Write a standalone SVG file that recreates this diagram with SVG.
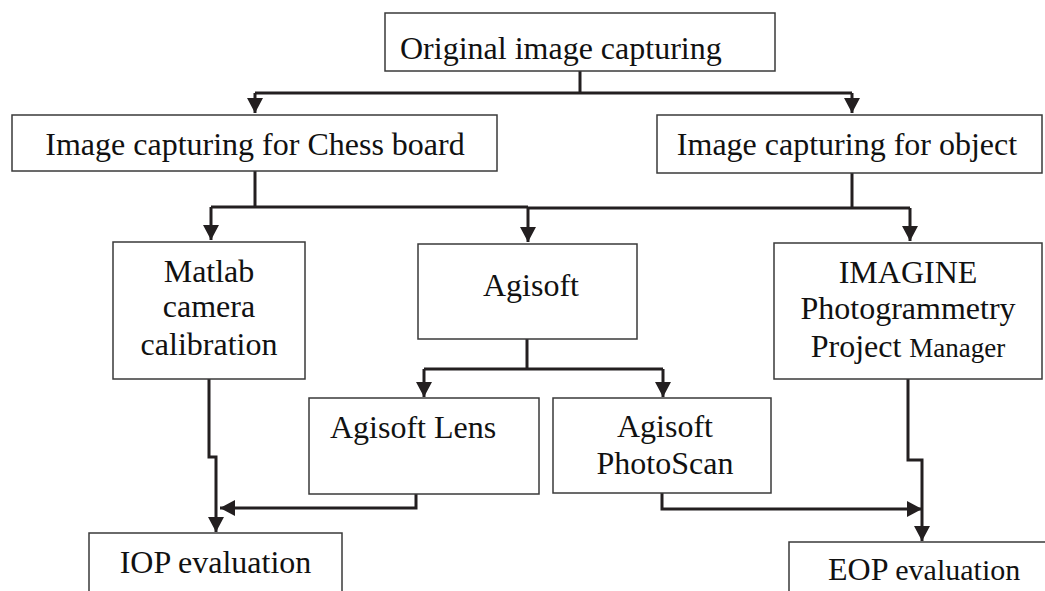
<svg xmlns="http://www.w3.org/2000/svg" width="1045" height="591" viewBox="0 0 1045 591">
<style>
.box{fill:#fff;stroke:#3a3a3a;stroke-width:1.5}
.t{font-size:32px;fill:#111}
.c{text-anchor:middle}
.con{fill:none;stroke:#231f20;stroke-width:3}
</style>
<defs>
<marker id="ah" viewBox="0 0 15 16" refX="15" refY="8" markerWidth="15" markerHeight="16" markerUnits="userSpaceOnUse" orient="auto">
<path d="M0,0 L15,8 L0,16 Z" fill="#231f20"/>
</marker>
</defs>
<rect width="1045" height="591" fill="#fff"/>
<g id="connectors">
<path class="con" d="M580,71 V93"/>
<path class="con" d="M255,93 H852"/>
<path class="con" d="M255,93 V113" marker-end="url(#ah)"/>
<path class="con" d="M852,93 V113" marker-end="url(#ah)"/>
<path class="con" d="M255,171 V207"/>
<path class="con" d="M852,173 V208"/>
<path class="con" d="M211,207 H528 M528,208 H910"/>
<path class="con" d="M211,207 V240" marker-end="url(#ah)"/>
<path class="con" d="M528,207 V242" marker-end="url(#ah)"/>
<path class="con" d="M910,208 V241" marker-end="url(#ah)"/>
<path class="con" d="M527,339 V369"/>
<path class="con" d="M424,369 H663"/>
<path class="con" d="M424,369 V397" marker-end="url(#ah)"/>
<path class="con" d="M663,369 V397" marker-end="url(#ah)"/>
<path class="con" d="M209,379 V457 H216 V532" marker-end="url(#ah)"/>
<path class="con" d="M416,494 V508 H220" marker-end="url(#ah)"/>
<path class="con" d="M908,379 V460 H922 V541" marker-end="url(#ah)"/>
<path class="con" d="M662,493 V509 H922" marker-end="url(#ah)"/>
</g>
<g font-family="Liberation Serif, Times New Roman, Times, serif">
<g id="n-original">
<rect class="box" x="385" y="13" width="390" height="58"/>
<text class="t" x="400" y="59">Original image capturing</text>
</g>
<g id="n-chess">
<rect class="box" x="12" y="115" width="485" height="56"/>
<text class="t c" x="255" y="155">Image capturing for Chess board</text>
</g>
<g id="n-object">
<rect class="box" x="657" y="115" width="385" height="58"/>
<text class="t c" x="847" y="155">Image capturing for object</text>
</g>
<g id="n-matlab">
<rect class="box" x="113" y="242" width="192" height="137"/>
<text class="t c" x="209" y="282">Matlab</text>
<text class="t c" x="209" y="317">camera</text>
<text class="t c" x="209" y="355">calibration</text>
</g>
<g id="n-agisoft">
<rect class="box" x="418" y="244" width="219" height="95"/>
<text class="t c" x="531" y="296">Agisoft</text>
</g>
<g id="n-imagine">
<rect class="box" x="774" y="243" width="268" height="136"/>
<text class="t c" x="908" y="283">IMAGINE</text>
<text class="t c" x="908" y="319">Photogrammetry</text>
<text class="t c" x="908" y="357">Project <tspan font-size="27">Manager</tspan></text>
</g>
<g id="n-lens">
<rect class="box" x="309" y="398" width="230" height="96"/>
<text class="t" x="330" y="438">Agisoft Lens</text>
</g>
<g id="n-photoscan">
<rect class="box" x="553" y="398" width="218" height="95"/>
<text class="t c" x="665" y="437">Agisoft</text>
<text class="t c" x="665" y="474">PhotoScan</text>
</g>
<g id="n-iop">
<rect class="box" x="89" y="533" width="253" height="70"/>
<text class="t c" x="215.5" y="573">IOP evaluation</text>
</g>
<g id="n-eop">
<rect class="box" x="789" y="542" width="270" height="60"/>
<text class="t" x="828" y="580">EOP <tspan font-size="30">evaluation</tspan></text>
</g>
</g>
</svg>
